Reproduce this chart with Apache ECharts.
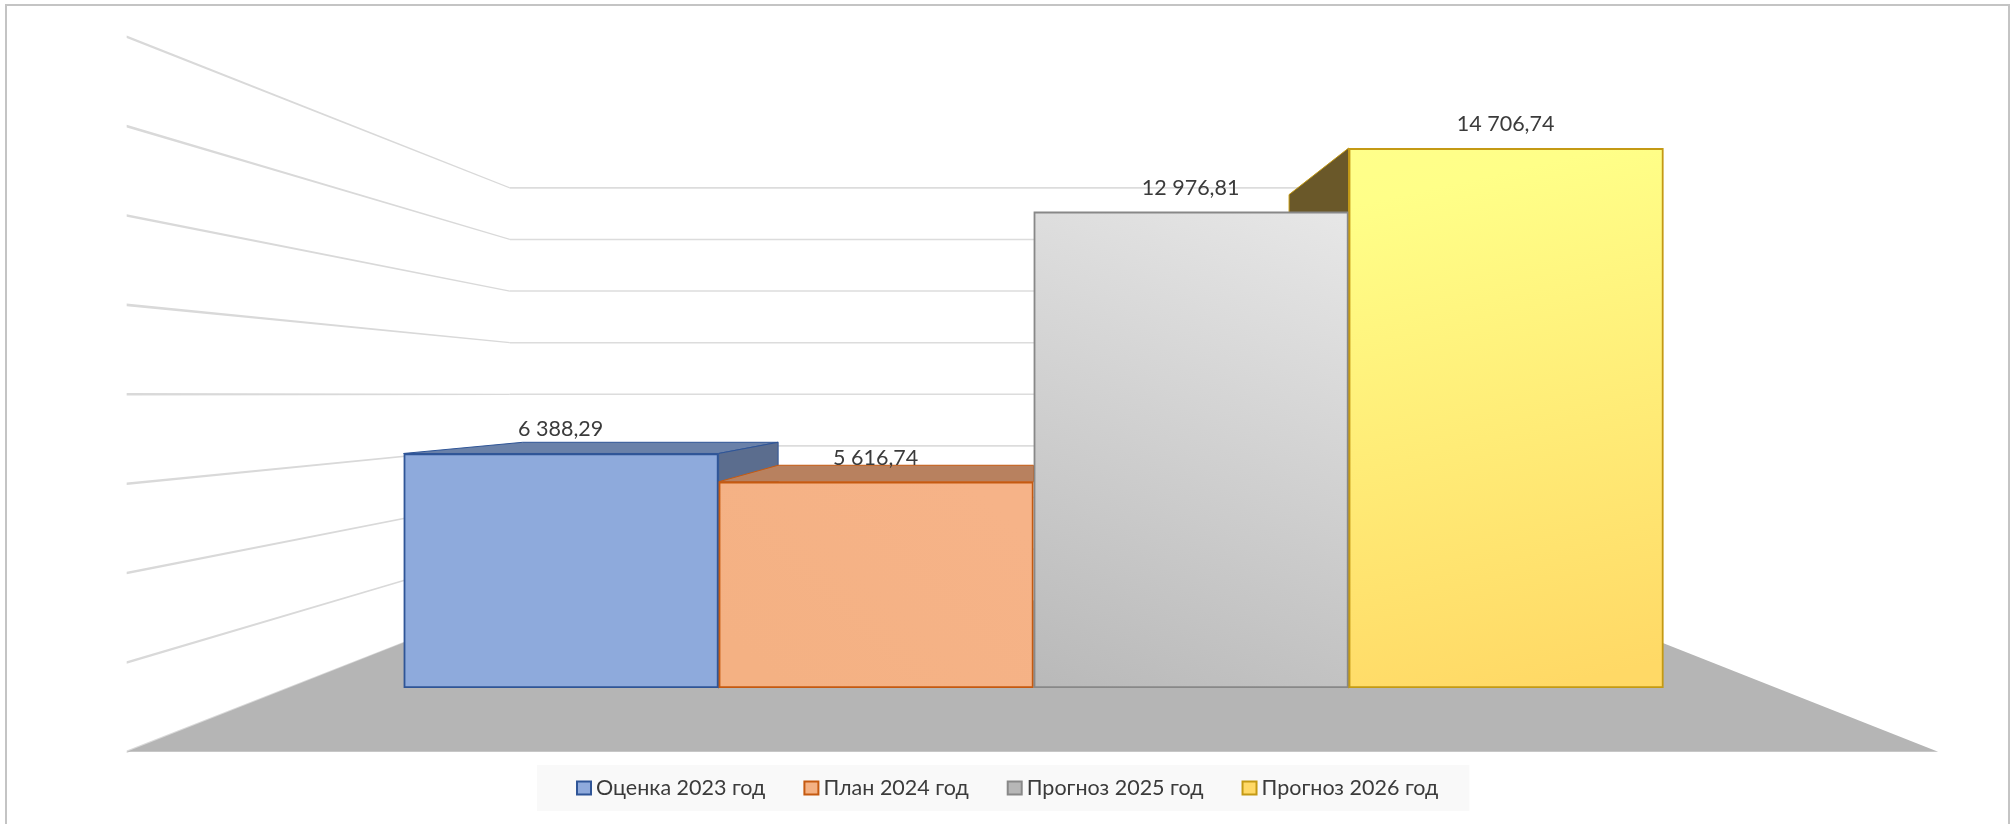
<!DOCTYPE html>
<html>
<head>
<meta charset="utf-8">
<title>Оценка и прогноз</title>
<script src="https://cdn.jsdelivr.net/npm/echarts@6/dist/echarts.min.js"></script>
<style>
    html,body{margin:0;padding:0;background:#fff;overflow:hidden;}
    #chart{width:2010px;height:824px;}
    #frame{position:absolute;left:5px;top:4px;width:2001px;height:840px;border:2px solid #c4c4c4;pointer-events:none;}
</style>
</head>
<body>
<div id="chart"></div>
<div id="frame"></div>
<script>
var categories=[''];
var seriesNames=['Оценка 2023 год','План 2024 год','Прогноз 2025 год','Прогноз 2026 год'];
var seriesValues=[6388.29,5616.74,12976.81,14706.74];
var axisTicks=[0,2000,4000,6000,8000,10000,12000,14000,16000];

// цвета: заливка лицевой грани, рамка, верх и боковая грань
var fillColors=[
    '#8eaadc',
    {type:'linear',x:0.8,y:0,x2:0.2,y2:1,colorStops:[{offset:0,color:'#f6b388'},{offset:1,color:'#f4b183'}]},
    {type:'linear',x:1,y:0,x2:0.37,y2:1.09,colorStops:[{offset:0,color:'#e7e7e7'},{offset:1,color:'#b9b9b9'}]},
    {type:'linear',x:0,y:0,x2:0.4,y2:1.03,colorStops:[{offset:0,color:'#ffff8a'},{offset:0.1,color:'#ffff88'},{offset:1,color:'#ffd966'}]}
];
var legendColors=['#8faadc','#f4b183','#b7b7b7','#ffd966'];
var borderColors=['#2f5597','#c55a11','#888888','#c49a14'];
var topColors=['#6a81a9','#b8815f','#8a8a8a','#a08030'];
var sideColors=['#5b6d8e','#a06a45','#6d6d6d','#6a5829'];

// псевдо-3D как в Excel: точка схода на значении 8000 по центру оси x
var eyeValue=8000;
var wallHalfLeft=0.5913;   // половина ширины пола в долях ширины категории
var wallHalfRight=0.5897;
var wallFront=1.2173;  // масштаб передней кромки пола относительно плоскости столбцов
var wallBack=0.703;    // масштаб задней стены
var barBack=0.811;     // масштаб задней грани столбца

function project(eye,x,y,k){
    return [eye[0]+(x-eye[0])*k,eye[1]+(y-eye[1])*k];
}

function renderGridLine(params,api){
    var eye=api.coord([0,eyeValue]);
    var band=api.size([1,0])[0];
    var y=api.coord([0,api.value(1)])[1];
    var a=project(eye,eye[0]-band*wallHalfLeft,y,wallFront);
    var b=project(eye,eye[0]-band*wallHalfLeft,y,wallBack);
    var c=project(eye,eye[0]+band*wallHalfRight,y,wallBack);
    return {type:'group',children:[
        {type:'polygon',shape:{points:[[a[0],a[1]-1.3],[b[0],b[1]-0.6],[b[0],b[1]+0.6],[a[0],a[1]+1.3]]},style:{fill:'#d9d9d9'}},
        {type:'line',shape:{x1:b[0],y1:b[1],x2:c[0],y2:c[1]},style:{stroke:'#dcdcdc',lineWidth:1.6}}
    ]};
}

function renderFloor(params,api){
    var eye=api.coord([0,eyeValue]);
    var band=api.size([1,0])[0];
    var y=api.coord([0,api.value(1)])[1];
    return {type:'polygon',shape:{points:[
        project(eye,eye[0]-band*wallHalfLeft,y,wallFront),
        project(eye,eye[0]-band*wallHalfLeft,y,wallBack),
        project(eye,eye[0]+band*wallHalfRight,y,wallBack),
        project(eye,eye[0]+band*wallHalfRight,y,wallFront)
    ]},style:{fill:'#b5b5b5'}};
}

function renderDepth(params,api){
    var eye=api.coord([0,eyeValue]);
    var band=api.size([1,0])[0];
    var i=params.dataIndex;
    var x0=eye[0]+(i-2)*band/4;
    var x1=x0+band/4;
    var top=api.coord([0,api.value(1)])[1];
    var bottom=api.coord([0,0])[1];
    var children=[];
    // верх виден только у столбцов ниже точки схода
    if(top>eye[1]){
        children.push({type:'polygon',shape:{points:[
            [x0,top],project(eye,x0,top,barBack),project(eye,x1,top,barBack),[x1,top]
        ]},style:{fill:topColors[i],stroke:borderColors[i],lineWidth:1}});
    }
    // боковая грань, обращенная к центру
    var sx=x1<eye[0]-1?x1:(x0>eye[0]+1?x0:null);
    if(sx!==null){
        children.push({type:'polygon',shape:{points:[
            [sx,top],project(eye,sx,top,barBack),project(eye,sx,bottom,barBack),[sx,bottom]
        ]},style:{fill:sideColors[i],stroke:borderColors[i],lineWidth:1}});
    }
    return {type:'group',children:children};
}

function formatValue(v){
    var parts=v.toFixed(2).split('.');
    return parts[0].replace(/\B(?=(\d{3})+$)/g,' ')+','+parts[1];
}

var barSeries=seriesNames.map(function(name,i){
    return {
        name:name,
        type:'bar',
        z:5,
        barGap:'0%',
        barCategoryGap:'0%',
        color:legendColors[i],
        itemStyle:{color:fillColors[i],borderColor:borderColors[i],borderWidth:1.8},
        label:{
            show:true,
            position:'top',
            distance:13,
            offset:[-0.5,0],
            fontFamily:'Lato',
            fontSize:21.5,
            color:'#3b3b3b',
            formatter:function(p){return formatValue(p.value);}
        },
        data:[seriesValues[i]]
    };
});

var chart=echarts.init(document.getElementById('chart'),null,{renderer:'canvas'});
chart.setOption({
    animation:false,
    backgroundColor:'#fff',
    grid:{left:403.6,top:100.6,width:1260,height:587.4},
    xAxis:{type:'category',data:categories,show:false},
    yAxis:{type:'value',min:0,max:16000,interval:2000,show:false},
    legend:{
        left:537,
        top:765,
        padding:[12,31,12,39],
        backgroundColor:'#f9f9f9',
        itemWidth:14,
        itemHeight:13,
        itemGap:38,
        icon:'rect',
        data:seriesNames.map(function(name,i){
            return {name:name,itemStyle:{color:legendColors[i],borderColor:borderColors[i],borderWidth:2}};
        }),
        textStyle:{fontFamily:'Lato',fontSize:21.5,color:'#3b3b3b'}
    },
    series:[
        {type:'custom',z:1,renderItem:renderGridLine,silent:true,data:axisTicks.map(function(t){return [0,t];})},
        {type:'custom',z:2,renderItem:renderFloor,silent:true,data:[[0,axisTicks[0]]]},
        {type:'custom',z:3,renderItem:renderDepth,silent:true,data:seriesValues.map(function(v){return [0,v];})}
    ].concat(barSeries)
});
</script>
</body>
</html>
